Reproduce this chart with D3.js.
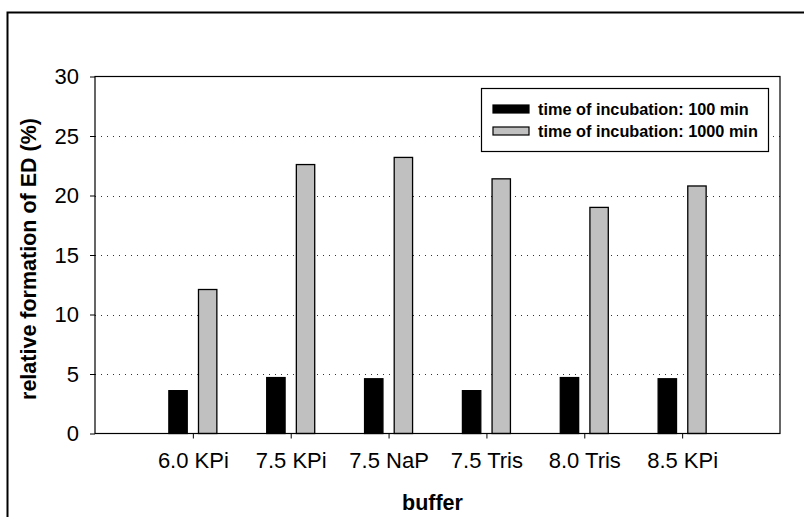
<!DOCTYPE html>
<html>
<head>
<meta charset="utf-8">
<script src="https://cdn.jsdelivr.net/npm/d3@7/dist/d3.min.js"></script>
<style>
  html, body { margin: 0; padding: 0; background: #fff; }
  svg { display: block; font-family: Arial, "Liberation Sans", sans-serif; }
</style>
</head>
<body>
<svg id="chart" width="804" height="517"></svg>
<script>
// Buffers tested (x categories)
const buffers = ["6.0 KPi", "7.5 KPi", "7.5 NaP", "7.5 Tris", "8.0 Tris", "8.5 KPi"];
// Relative formation of ED (%) after each incubation time
const series = ["time of incubation: 100 min", "time of incubation: 1000 min"];
const values100 = [3.6, 4.7, 4.6, 3.6, 4.7, 4.6];
const values1000 = [12.1, 22.6, 23.2, 21.4, 19.0, 20.8];
const yTicks = [0, 5, 10, 15, 20, 25, 30];
const fills = ["#000000", "#c0c0c0"];

const svg = d3.select("#chart");

// Outer chart frame
svg.append("rect")
  .attr("x", 7.5).attr("y", 12.5)
  .attr("width", 830).attr("height", 540)
  .attr("fill", "none").attr("stroke", "#000").attr("stroke-width", 2);

const plot = { left: 95, right: 780, top: 76.5, bottom: 433.5 };
const step = (plot.right - plot.left) / (buffers.length + 1);

const x = d3.scalePoint()
  .domain(buffers)
  .range([plot.left + step, plot.right - step]);

const inner = d3.scaleBand()
  .domain(series)
  .range([-24, 24])
  .paddingInner(0.38);

const y = d3.scaleLinear()
  .domain([0, 30])
  .range([plot.bottom, plot.top]);

// Dotted gridlines
svg.append("g")
  .selectAll("line")
  .data(yTicks.filter(t => t > 0 && t < 30))
  .join("line")
  .attr("x1", plot.left).attr("x2", plot.right)
  .attr("y1", d => Math.round(y(d)) + 0.5).attr("y2", d => Math.round(y(d)) + 0.5)
  .attr("stroke", "#333").attr("stroke-width", 1)
  .attr("stroke-dasharray", "1,5");

// Bars
const rows = buffers.map((b, i) => ({ buffer: b, vals: [values100[i], values1000[i]] }));
const groups = svg.append("g")
  .selectAll("g")
  .data(rows)
  .join("g")
  .attr("transform", d => `translate(${x(d.buffer)},0)`);

groups.selectAll("rect")
  .data(d => d.vals.map((v, k) => ({ s: series[k], k, v })))
  .join("rect")
  .attr("x", d => inner(d.s))
  .attr("width", inner.bandwidth())
  .attr("y", d => y(d.v))
  .attr("height", d => y(0) - y(d.v))
  .attr("fill", d => fills[d.k])
  .attr("stroke", "#000").attr("stroke-width", 1.3);

// Plot area border
svg.append("rect")
  .attr("x", plot.left).attr("y", plot.top)
  .attr("width", plot.right - plot.left).attr("height", plot.bottom - plot.top)
  .attr("fill", "none").attr("stroke", "#000").attr("stroke-width", 1.2);

// Y axis
const yAxis = svg.append("g")
  .attr("transform", `translate(${plot.left},0)`)
  .call(d3.axisLeft(y).tickValues(yTicks).tickSize(5).tickPadding(11));
yAxis.select(".domain").remove();
yAxis.selectAll("line").attr("stroke", "#000");
yAxis.selectAll("text")
  .attr("font-size", 22).attr("fill", "#000")
  .attr("font-family", "Arial, 'Liberation Sans', sans-serif");

// X axis: ticks at category positions
const xAxis = svg.append("g")
  .attr("transform", `translate(0,${plot.bottom})`)
  .call(d3.axisBottom(x).tickSize(5).tickPadding(14));
xAxis.select(".domain").remove();
xAxis.selectAll("line").attr("stroke", "#000");
xAxis.selectAll("text")
  .attr("font-size", 22).attr("fill", "#000")
  .attr("font-family", "Arial, 'Liberation Sans', sans-serif");

// Axis titles
svg.append("text")
  .attr("x", (plot.left + plot.right) / 2 - 5).attr("y", 510)
  .attr("text-anchor", "middle")
  .attr("font-size", 21.5).attr("font-weight", "bold")
  .text("buffer");

svg.append("text")
  .attr("transform", `translate(36,${(plot.top + plot.bottom) / 2 + 4}) rotate(-90)`)
  .attr("text-anchor", "middle")
  .attr("font-size", 21.5).attr("font-weight", "bold")
  .text("relative formation of ED (%)");

// Legend
const legend = svg.append("g");
legend.append("rect")
  .attr("x", 481.5).attr("y", 88.5).attr("width", 287).attr("height", 63)
  .attr("fill", "#fff").attr("stroke", "#000").attr("stroke-width", 1.2);

const items = legend.selectAll("g.item")
  .data(series)
  .join("g")
  .attr("class", "item")
  .attr("transform", (d, i) => `translate(0,${i * 22})`);

items.append("rect")
  .attr("x", 493).attr("y", 105).attr("width", 36).attr("height", 8)
  .attr("fill", (d, i) => fills[i])
  .attr("stroke", "#000").attr("stroke-width", 1.2);

items.append("text")
  .attr("x", 538).attr("y", 115)
  .attr("font-size", 16.3).attr("font-weight", "bold")
  .text(d => d);
</script>
</body>
</html>
